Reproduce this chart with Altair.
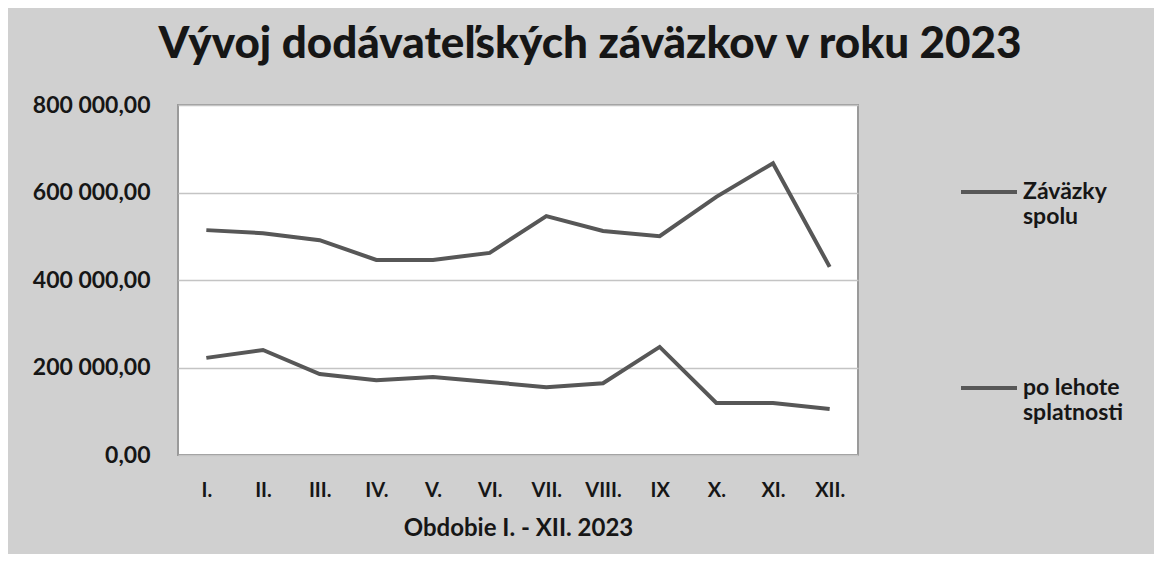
import altair as alt
import pandas as pd

months = ["I.", "II.", "III.", "IV.", "V.", "VI.", "VII.", "VIII.", "IX", "X.", "XI.", "XII."]
spolu = [514000, 507000, 491000, 446000, 446000, 462000, 546000, 512000, 500000, 590000, 667000, 430000]
po_lehote = [222000, 240000, 185000, 171000, 178000, 167000, 155000, 164000, 247000, 119000, 119000, 105000]
series = ["Záväzky spolu", "po lehote splatnosti"]
y_ticks = [0, 200000, 400000, 600000, 800000]

rows = []
for i, m in enumerate(months):
    rows.append({"mesiac": m, "rad": series[0], "hodnota": spolu[i]})
    rows.append({"mesiac": m, "rad": series[1], "hodnota": po_lehote[i]})
df = pd.DataFrame(rows)

FONT = "Lato"
LINE = "#575757"
TXT = "#161616"

chart = (
    alt.Chart(df)
    .mark_line(strokeWidth=4, strokeJoin="miter")
    .encode(
        x=alt.X(
            "mesiac:N",
            sort=months,
            axis=alt.Axis(
                title="Obdobie I. - XII. 2023",
                labelAngle=0,
                labelFont=FONT,
                labelFontWeight="bold",
                labelFontSize=20,
                labelColor=TXT,
                labelPadding=25,
                titleFont=FONT,
                titleFontWeight="bold",
                titleFontSize=24,
                titleColor=TXT,
                titlePadding=16,
                domain=False,
                ticks=False,
                grid=False,
            ),
        ),
        y=alt.Y(
            "hodnota:Q",
            scale=alt.Scale(domain=[0, 800000], nice=False),
            axis=alt.Axis(
                title=None,
                values=y_ticks,
                labelExpr="replace(replace(format(datum.value, ',.2f'), ',', ' '), '.', ',')",
                labelFont=FONT,
                labelFontWeight="bold",
                labelFontSize=23,
                labelColor=TXT,
                labelPadding=28,
                domain=False,
                ticks=False,
                grid=True,
                gridColor="#c4c4c4",
                gridWidth=1.5,
            ),
        ),
        color=alt.Color(
            "rad:N",
            sort=series,
            scale=alt.Scale(domain=series, range=[LINE, LINE]),
            legend=alt.Legend(
                title=None,
                orient="none",
                legendX=781,
                legendY=57,
                symbolType="stroke",
                symbolSize=3136,
                symbolStrokeWidth=4,
                labelFont=FONT,
                labelFontWeight="bold",
                labelFontSize=23,
                labelColor=TXT,
                labelExpr="datum.label == 'Záväzky spolu' ? ['Záväzky', 'spolu'] : ['po lehote', 'splatnosti']",
                rowPadding=129,
                labelLimit=300,
            ),
        ),
    )
    .properties(
        width=680,
        height=350,
        autosize="none",
        padding={"left": 170, "top": 97, "right": 296, "bottom": 99},
        background="#d0d0d0",
        title=alt.TitleParams(
            "Vývoj dodávateľských záväzkov v roku 2023",
            font=FONT,
            fontWeight=900,
            fontSize=44,
            color=TXT,
            anchor="middle",
            dx=72,
            offset=27,
        ),
    )
    .configure_view(fill="white", stroke="#9a9a9a", strokeWidth=2)
)

chart.save("out.html", embed_options={"renderer": "svg", "actions": False})
